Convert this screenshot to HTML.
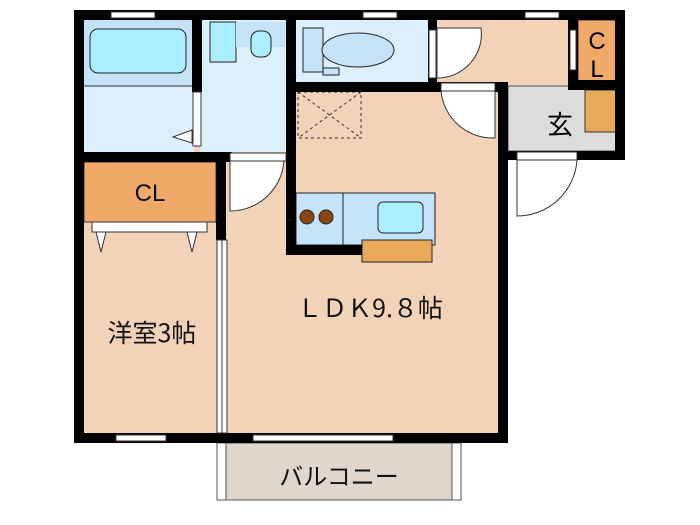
<!DOCTYPE html>
<html><head><meta charset="utf-8"><style>body{margin:0;background:#fff}svg{display:block}</style></head><body>
<svg width="700" height="525" viewBox="0 0 700 525" xmlns="http://www.w3.org/2000/svg" font-family="Liberation Sans, Noto Sans CJK JP, sans-serif">
<rect x="217" y="443" width="244" height="57" fill="#fff" stroke="#555" stroke-width="1"/>
<rect x="226" y="443" width="226" height="57" fill="#e0d6cc" stroke="#555" stroke-width="1"/>
<text x="339" y="485" font-size="24" text-anchor="middle" fill="#111" font-family="Noto Sans CJK JP, sans-serif">バルコニー</text>
<rect x="84" y="20" width="420" height="418" fill="#f3d3b8"/>
<rect x="437" y="20" width="180" height="70" fill="#f3d3b8"/>
<rect x="84" y="20" width="110" height="132" fill="#deeffc"/>
<rect x="84" y="20" width="110" height="66" fill="#c4e2f8"/>
<rect x="90" y="29" width="96" height="44" rx="8" fill="#aaeeff" stroke="#222"/>
<line x1="84" y1="86" x2="194" y2="86" stroke="#333"/>
<rect x="200" y="20" width="88" height="132" fill="#deeffc"/>
<rect x="210" y="22" width="26" height="40" fill="#aaeeff" stroke="#222"/>
<rect x="236" y="22" width="50" height="25" fill="#c4e2f8"/>
<rect x="251" y="31" width="20" height="26" rx="8" fill="#aaeeff" stroke="#222"/>
<rect x="296" y="20" width="135" height="62" fill="#deeffc"/>
<rect x="303" y="28" width="20" height="44" fill="#c4e2f8" stroke="#222"/>
<ellipse cx="358" cy="50" rx="36" ry="17" fill="#c4e2f8" stroke="#222"/>
<rect x="323" y="68" width="16" height="7" fill="#c4e2f8" stroke="#222"/>
<rect x="578" y="20" width="38" height="61" fill="#f1a96a" stroke="#333"/>
<text x="597" y="49" font-size="24" text-anchor="middle">C</text>
<text x="597" y="77" font-size="24" text-anchor="middle">L</text>
<rect x="508" y="86" width="108" height="65" fill="#dcdcdc" stroke="#555"/>
<rect x="585" y="90" width="31" height="42" fill="#e8aa58" stroke="#333"/>
<text x="560" y="134" font-size="26" text-anchor="middle" font-family="Noto Sans CJK JP, sans-serif">玄</text>
<rect x="84" y="162" width="132" height="60" fill="#f1a96a" stroke="#333"/>
<text x="150" y="201" font-size="24" text-anchor="middle" fill="#111">CL</text>
<rect x="92" y="222" width="115" height="10" fill="#fff" stroke="#333"/>
<polygon points="96,232 106,232 101,252" fill="#fff" stroke="#333"/>
<polygon points="187,232 197,232 192,252" fill="#fff" stroke="#333"/>
<rect x="298" y="92" width="63" height="46" fill="none" stroke="#333" stroke-dasharray="3,3"/>
<line x1="298" y1="92" x2="361" y2="138" stroke="#333" stroke-dasharray="3,3"/>
<line x1="361" y1="92" x2="298" y2="138" stroke="#333" stroke-dasharray="3,3"/>
<rect x="296" y="193" width="139" height="52" fill="#c4e2f8" stroke="#222"/>
<line x1="343" y1="193" x2="343" y2="245" stroke="#222"/>
<circle cx="307" cy="217" r="7" fill="#8b4510" stroke="#222"/>
<circle cx="326" cy="217" r="7" fill="#8b4510" stroke="#222"/>
<rect x="378" y="202" width="45" height="31" rx="5" fill="#aaeeff" stroke="#222"/>
<rect x="362" y="240" width="70" height="22" fill="#e8aa58" stroke="#222"/>
<g fill="#000">
<rect x="74" y="10" width="551" height="10"/>
<rect x="74" y="10" width="10" height="433"/>
<rect x="74" y="433" width="433" height="10"/>
<rect x="498" y="82" width="10" height="361"/>
<rect x="615" y="10" width="10" height="150"/>
<rect x="498" y="151" width="127" height="9"/>
<rect x="568" y="10" width="10" height="80"/>
<rect x="568" y="80" width="57" height="10"/>
<rect x="192" y="10" width="10" height="82"/>
<rect x="286" y="10" width="10" height="245"/>
<rect x="286" y="82" width="220" height="10"/>
<rect x="428" y="10" width="9" height="82"/>
<rect x="84" y="152" width="148" height="10"/>
<rect x="216" y="152" width="10" height="88"/>
<rect x="286" y="245" width="76" height="10"/>
</g>
<g fill="#fff" stroke="#333">
<rect x="111" y="12" width="44" height="6"/>
<rect x="363" y="12" width="34" height="6"/>
<rect x="525" y="12" width="34" height="6"/>
<rect x="116" y="435" width="50" height="6"/>
<rect x="253" y="435" width="140" height="6"/>
</g>
<g fill="#fff" stroke="#333">
<rect x="193" y="92" width="8" height="54"/>
<polygon points="192,130 173,137 192,143"/>
<rect x="230" y="153" width="56" height="8"/>
<path d="M230 161 L284 161 A54 54 0 0 1 230 211 Z"/>
<rect x="429" y="30" width="7" height="48"/>
<path d="M437 28 L481 28 A44 44 0 0 1 437 78 Z"/>
<rect x="441" y="83" width="54" height="8"/>
<path d="M495 91 L495 138 A52 52 0 0 1 441 91 Z"/>
<rect x="517" y="152" width="60" height="8"/>
<path d="M517 160 L577 160 A60 60 0 0 1 517 216 Z"/>
<rect x="570" y="30" width="6" height="40"/>
<rect x="217" y="240" width="10" height="193"/>
</g>
<line x1="222" y1="240" x2="222" y2="433" stroke="#333"/>
<text x="152" y="342" font-size="25" text-anchor="middle" fill="#111" font-family="Noto Sans CJK JP, sans-serif">洋室3帖</text>
<text x="370" y="317" font-size="25" text-anchor="middle" fill="#111" font-family="Noto Sans CJK JP, sans-serif">ＬＤＫ9.８帖</text>
</svg>
</body></html>
